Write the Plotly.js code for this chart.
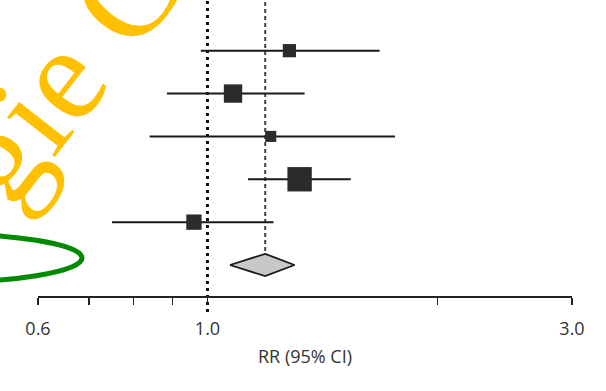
<!DOCTYPE html>
<html>
<head>
<meta charset="utf-8">
<script src="https://cdn.plot.ly/plotly-3.0.1.min.js"></script>
<style>html,body{margin:0;padding:0;background:#fff;}#chart{width:606px;height:391px;}</style>
</head>
<body>
<div id="chart"></div>
<script>
// ---- data ----
const studyRows = [1, 2, 3, 4, 5];
const rr = [1.28, 1.08, 1.21, 1.32, 0.96];
const lower = [0.98, 0.885, 0.84, 1.13, 0.75];
const upper = [1.68, 1.34, 1.76, 1.54, 1.22];
const weights = [17, 33, 12, 58, 23];
const pooledRow = 6;
const pooledRR = 1.19;
const pooledLower = 1.07;
const pooledUpper = 1.30;
const tickValues = [0.6, 0.7, 0.8, 0.9, 1.0, 2.0, 3.0];
const tickLabels = ['0.6', '', '', '', '1.0', '', '3.0'];
const axisTitle = 'RR (95% CI)';
const watermarkText = 'gie C';

// ---- traces ----
const studies = {
  type: 'scatter', mode: 'markers',
  x: rr, y: studyRows,
  marker: {symbol: 'square', color: '#2b2b2b', opacity: 1,
           size: weights.map(w => 3.2 * Math.sqrt(w)), line: {width: 0}},
  error_x: {
    type: 'data', symmetric: false,
    array: rr.map((v, i) => upper[i] - v),
    arrayminus: rr.map((v, i) => v - lower[i]),
    width: 0, thickness: 2, color: '#1a1a1a'
  },
  hoverinfo: 'x', showlegend: false
};
const dh = 0.26;
const diamond = {
  type: 'scatter', mode: 'lines',
  x: [pooledLower, pooledRR, pooledUpper, pooledRR, pooledLower],
  y: [pooledRow, pooledRow - dh, pooledRow, pooledRow + dh, pooledRow],
  fill: 'toself', fillcolor: '#c8c8c8',
  line: {color: '#1a1a1a', width: 1.8},
  hoverinfo: 'skip', showlegend: false
};

const layout = {
  width: 606, height: 391,
  margin: {l: 38, r: 34, t: 0, b: 95},
  paper_bgcolor: '#fff', plot_bgcolor: '#fff',
  showlegend: false,
  xaxis: {
    type: 'log',
    range: [Math.log10(0.6), Math.log10(3.0)],
    tickmode: 'array', tickvals: tickValues, ticktext: tickLabels,
    ticks: 'outside', ticklen: 7, tickwidth: 1.6, tickcolor: '#222',
    ticklabelstandoff: 8,
    showline: true, linecolor: '#222', linewidth: 2,
    showgrid: false, zeroline: false,
    tickfont: {family: 'Open Sans', size: 18, color: '#333'},
    title: {text: axisTitle, font: {family: 'Open Sans', size: 18, color: '#333'}, standoff: 12}
  },
  yaxis: {
    range: [6.723, -0.182], autorange: false,
    visible: false, showgrid: false, zeroline: false
  },
  shapes: [
    {type: 'line', xref: 'x', yref: 'paper', x0: 1.0, x1: 1.0, y0: -0.054, y1: 1,
     line: {color: '#111', width: 3, dash: '3px,4px'}, layer: 'below'},
    {type: 'line', xref: 'x', yref: 'y', x0: pooledRR, x1: pooledRR, y0: -0.3, y1: pooledRow - dh,
     line: {color: '#444', width: 2, dash: '4px,3px'}, layer: 'below'},
    {type: 'circle', xref: 'paper', yref: 'paper', x0: -0.502, x1: 0.0824, y0: 0.0439, y1: 0.2128,
     line: {color: '#008a00', width: 5}, layer: 'above'}
  ],
  annotations: [
    {text: watermarkText, xref: 'paper', yref: 'paper', x: 0.050, y: 0.762,
     xanchor: 'center', yanchor: 'middle', textangle: -52, showarrow: false,
     font: {family: 'Liberation Serif', size: 135, color: '#FFC000'}}
  ]
};

Plotly.newPlot('chart', [diamond, studies], layout, {staticPlot: true, displayModeBar: false});
</script>
</body>
</html>
